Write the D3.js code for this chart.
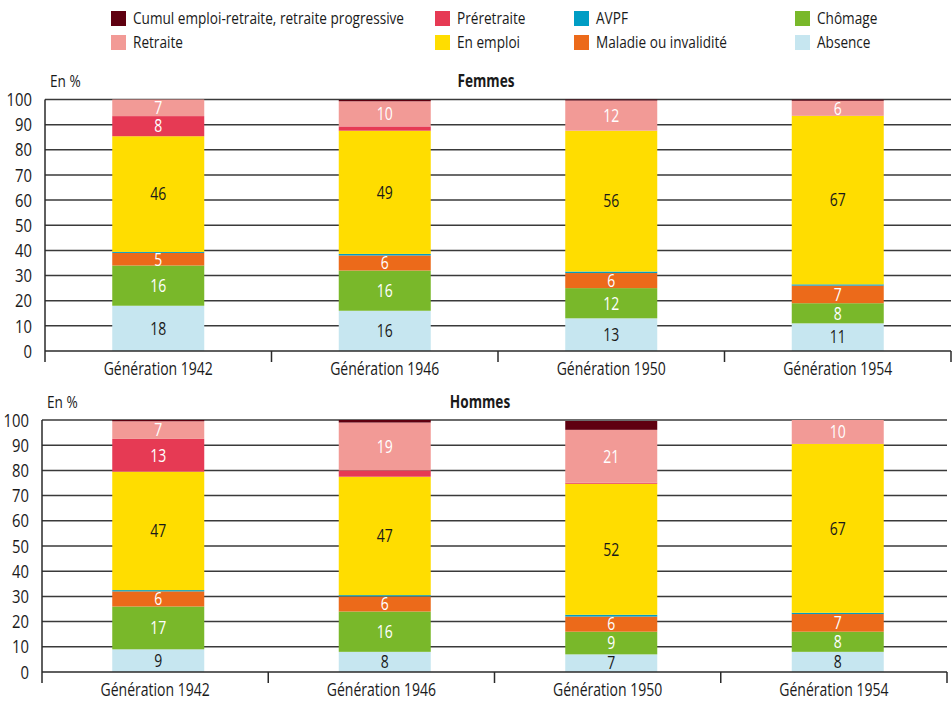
<!DOCTYPE html>
<html lang="fr">
<head>
<meta charset="utf-8">
<script src="https://cdn.jsdelivr.net/npm/d3@7"></script>
<style>
  html, body { margin: 0; padding: 0; background: #fff; }
  svg text { font-family: "Open Sans", "Noto Sans", "DejaVu Sans", sans-serif; }
</style>
</head>
<body>
<svg id="chart" width="952" height="701"></svg>
<script>
// Generations shown on the x axis
const generations = ["Génération 1942", "Génération 1946", "Génération 1950", "Génération 1954"];

// Situations, stacked from bottom to top
const situations = ["Absence", "Chômage", "Maladie ou invalidité", "AVPF", "En emploi", "Préretraite", "Retraite", "Cumul emploi-retraite, retraite progressive"];
const situationColors = ["#c6e6f0", "#79b82a", "#ec6a1a", "#009dc4", "#ffdd00", "#e63a54", "#f29a96", "#5f0010"];
const labelColors = ["#1a1a1a", "#ffffff", "#ffffff", "#ffffff", "#1a1a1a", "#ffffff", "#ffffff", "#ffffff"];

// Legend layout order (two rows of four)
const legendOrder = [
  "Cumul emploi-retraite, retraite progressive", "Préretraite", "AVPF", "Chômage",
  "Retraite", "En emploi", "Maladie ou invalidité", "Absence"
];

// Femmes, in %, one value per generation
const femmesAbsence     = [18, 16, 13, 11];
const femmesChomage     = [16, 16, 12, 8];
const femmesMaladie     = [5, 6, 6, 7];
const femmesAvpf        = [0.4, 0.6, 0.6, 0.5];
const femmesEmploi      = [46, 49, 56, 67];
const femmesPreretraite = [8, 1.7, 0, 0];
const femmesRetraite    = [7, 10, 12, 6];
const femmesCumul       = [0, 0.5, 0.5, 0.5];

// Hommes, in %, one value per generation
const hommesAbsence     = [9, 8, 7, 8];
const hommesChomage     = [17, 16, 9, 8];
const hommesMaladie     = [6, 6, 6, 7];
const hommesAvpf        = [0.5, 0.5, 0.7, 0.5];
const hommesEmploi      = [47, 47, 52, 67];
const hommesPreretraite = [13, 2.5, 0.4, 0];
const hommesRetraite    = [7, 19, 21, 10];
const hommesCumul       = [0.5, 1.2, 3.5, 0.4];

const yTicks = [0, 10, 20, 30, 40, 50, 60, 70, 80, 90, 100];

const femmesSeries = [femmesAbsence, femmesChomage, femmesMaladie, femmesAvpf, femmesEmploi, femmesPreretraite, femmesRetraite, femmesCumul];
const hommesSeries = [hommesAbsence, hommesChomage, hommesMaladie, hommesAvpf, hommesEmploi, hommesPreretraite, hommesRetraite, hommesCumul];

function toRows(series) {
  return generations.map((g, i) => {
    const row = { generation: g };
    situations.forEach((s, k) => { row[s] = series[k][i]; });
    return row;
  });
}

const svg = d3.select("#chart");
const colorOf = d3.scaleOrdinal().domain(situations).range(situationColors);
const labelColorOf = d3.scaleOrdinal().domain(situations).range(labelColors);
const INK = "#1a1a1a";

// Bars share one horizontal placement across both panels
const xBars = d3.scaleBand().domain(generations).range([45, 951]);
const barWidth = 92;

// Legend
const legendX = [111, 435, 574, 795];
const legendY = [18, 42];
const legend = svg.append("g");
legendOrder.forEach((name, i) => {
  const col = i % 4, row = Math.floor(i / 4);
  const g = legend.append("g").attr("transform", `translate(${legendX[col]},${legendY[row]})`);
  g.append("rect").attr("x", 0).attr("y", -7).attr("width", 15).attr("height", 15).attr("fill", colorOf(name));
  g.append("text").attr("class", "c").attr("x", 22).attr("y", 0).attr("dy", "0.36em")
    .attr("font-size", 17).attr("fill", INK).text(name);
});

function drawPanel(cfg) {
  const rows = toRows(cfg.series);
  const stack = d3.stack().keys(situations)(rows);
  const y = d3.scaleLinear().domain([0, 100]).range([cfg.y0, cfg.y100]);
  const xAxisBand = d3.scaleBand().domain(generations).range([cfg.left, cfg.right]);
  const g = svg.append("g");

  const clipId = "clip-" + cfg.id;
  g.append("clipPath").attr("id", clipId)
    .append("rect").attr("x", cfg.left).attr("y", y(100)).attr("width", cfg.right - cfg.left).attr("height", y(0) - y(100));

  // Horizontal gridlines
  g.append("g").selectAll("line").data(yTicks.filter(t => t > 0)).join("line")
    .attr("x1", cfg.left).attr("x2", cfg.right)
    .attr("y1", d => y(d)).attr("y2", d => y(d))
    .attr("stroke", "#3a3a3a").attr("stroke-width", 1.5);

  // Stacked bars
  const layers = g.append("g").attr("clip-path", `url(#${clipId})`)
    .selectAll("g").data(stack).join("g").attr("fill", d => colorOf(d.key));
  layers.selectAll("rect").data(d => d).join("rect")
    .attr("x", d => xBars(d.data.generation) + (xBars.bandwidth() - barWidth) / 2)
    .attr("width", barWidth)
    .attr("y", d => y(d[1]))
    .attr("height", d => Math.max(0, y(d[0]) - y(d[1])));

  // Value labels on the larger segments
  stack.forEach(layer => {
    layer.forEach(d => {
      const v = d[1] - d[0];
      if (v < 4) return;
      g.append("text").attr("class", "c")
        .attr("x", xBars(d.data.generation) + xBars.bandwidth() / 2)
        .attr("y", y((d[0] + Math.min(d[1], 100)) / 2))
        .attr("dy", "0.36em")
        .attr("text-anchor", "middle")
        .attr("font-size", 17.5)
        .attr("fill", labelColorOf(layer.key))
        .text(d3.format("d")(Math.round(v)));
    });
  });

  // Y axis: line and labels
  g.append("line").attr("x1", cfg.left).attr("x2", cfg.left)
    .attr("y1", y(100)).attr("y2", y(0)).attr("stroke", "#2a2a2a").attr("stroke-width", 1.5);
  g.append("g").selectAll("text").data(yTicks).join("text").attr("class", "c")
    .attr("x", cfg.left - 13).attr("y", d => y(d)).attr("dy", "0.36em")
    .attr("text-anchor", "end").attr("font-size", 18.5).attr("fill", INK)
    .text(d => d);

  // X axis: baseline, band separators, generation labels
  const xAxis = d3.axisBottom(xAxisBand).tickSize(0).tickPadding(0);
  const ax = g.append("g").attr("transform", `translate(0,${y(0)})`).call(xAxis);
  ax.select(".domain").remove();
  ax.selectAll(".tick text").attr("class", "c").attr("font-size", 17.5).attr("fill", INK)
    .attr("dy", "0.36em").attr("y", 18);
  g.append("line").attr("x1", cfg.left).attr("x2", cfg.right)
    .attr("y1", y(0)).attr("y2", y(0)).attr("stroke", "#2a2a2a").attr("stroke-width", 1.5);
  const bounds = generations.map(gn => xAxisBand(gn)).concat([cfg.right]);
  g.append("g").selectAll("line").data(bounds).join("line")
    .attr("x1", d => d).attr("x2", d => d)
    .attr("y1", y(0)).attr("y2", y(0) + 11)
    .attr("stroke", "#2a2a2a").attr("stroke-width", 1.5);

  // Unit and panel title
  g.append("text").attr("class", "c").attr("x", cfg.left + 5).attr("y", cfg.titleY).attr("dy", "0.36em")
    .attr("font-size", 17).attr("fill", INK).text("En %");
  g.append("text").attr("class", "c").attr("x", cfg.titleX).attr("y", cfg.titleY).attr("dy", "0.36em")
    .attr("text-anchor", "middle").attr("font-size", 17).attr("font-weight", "bold")
    .attr("fill", INK).text(cfg.title);
}

drawPanel({ id: "f", title: "Femmes", series: femmesSeries, left: 45, right: 951, y0: 351, y100: 99.5, titleY: 81, titleX: 486 });
drawPanel({ id: "h", title: "Hommes", series: hommesSeries, left: 42, right: 947, y0: 672, y100: 420, titleY: 402, titleX: 480 });

// Narrow the typeface horizontally for a condensed look
svg.selectAll("text.c").each(function () {
  const w = this.getComputedTextLength();
  this.setAttribute("textLength", (w * 0.8).toFixed(1));
  this.setAttribute("lengthAdjust", "spacingAndGlyphs");
});
</script>
</body>
</html>
